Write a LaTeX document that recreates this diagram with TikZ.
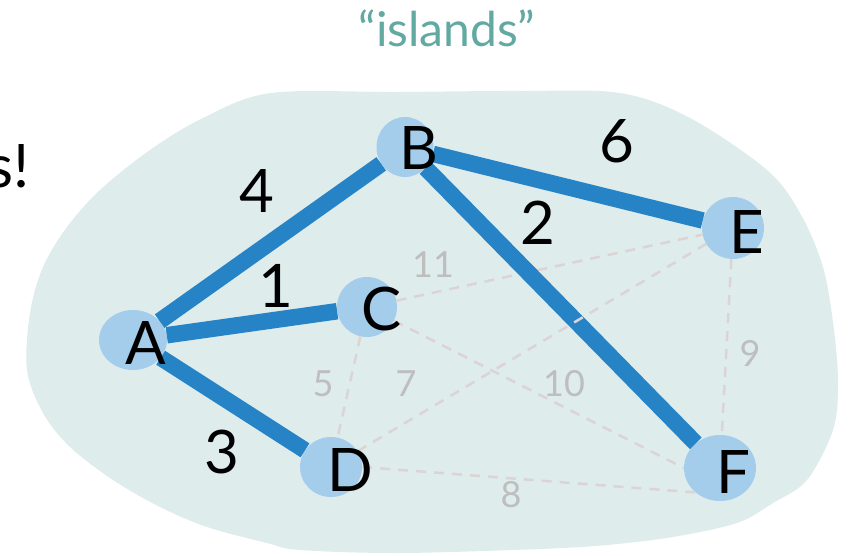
\documentclass[tikz,border=0pt]{standalone}
\usepackage{fontspec}
\setmainfont{Lato}
\usetikzlibrary{shapes.geometric}
\definecolor{island}{HTML}{DEECEC}
\definecolor{vertex}{HTML}{A4CDEC}
\definecolor{treeedge}{HTML}{2684C6}
\definecolor{spare}{HTML}{DCD4D4}
\definecolor{sparetext}{HTML}{BEBEBE}
\definecolor{titleteal}{HTML}{62A9A1}

\begin{document}
\begin{tikzpicture}[x=1pt,y=-1pt,
  vtx/.style={ellipse, fill=vertex, inner sep=0pt},
  vname/.style={font=\fontsize{60}{62}\selectfont, inner sep=0pt},
  tree/.style={draw=treeedge, line width=16.5pt},
  spareedge/.style={draw=spare, line width=2.5pt, dash pattern=on 10pt off 8pt},
  wt/.style={font=\fontsize{60}{62}\selectfont, inner sep=0pt},
  swt/.style={font=\fontsize{36}{40}\selectfont, text=sparetext, inner sep=0pt}]

\useasboundingbox (0,0) rectangle (849,556);

% the island region
\fill[island] plot[smooth cycle, tension=0.55] coordinates {
  (271,93) (400,92) (520,91) (620,93) (690,118) (767,170) (800,213)
  (823,267) (834,330) (838,385) (833,430) (807,480) (773,503)
  (737,523) (673,537) (607,545) (540,549) (400,553) (300,550)
  (267,543) (207,527) (160,507) (113,480) (70,447) (43,413) (27,370)
  (30,313) (43,267) (67,227) (100,190) (150,150) (203,118)};

% heading and cut-off text
\node[text=titleteal, font=\fontsize{48}{50}\selectfont, inner sep=0pt] (title) at (447,28) {“islands”};
\node[anchor=base east, font=\fontsize{60}{62}\selectfont, inner sep=0pt] (cut) at (30,188) {s!};

% vertices
\node[vtx, minimum width=68pt, minimum height=60pt] (A) at (133,340) {};
\node[vtx, minimum width=57pt, minimum height=60pt] (B) at (405,147) {};
\node[vtx, minimum width=60pt, minimum height=60pt] (C) at (367,307) {};
\node[vtx, minimum width=62pt, minimum height=60pt] (D) at (331,467) {};
\node[vtx, minimum width=62pt, minimum height=62pt] (E) at (733,228) {};
\node[vtx, minimum width=72pt, minimum height=66pt] (F) at (720,468) {};

% edges outside the tree
\draw[spareedge] (C) -- (D);
\draw[spareedge] (C) -- (E);
\draw[spareedge] (C) -- (F.west);
\draw[spareedge] (D.east) -- (F.225);
\draw[spareedge] (E) -- (F);

% tree edges
\draw[tree] (A) -- (B);
\draw[tree] (A) -- (C);
\draw[tree] (A) -- (D);
\draw[tree] (B) -- (E);
\draw[tree] (B) -- (F);

\draw[spareedge] (D) -- (E);

% vertex names
\node[vname] (lA) at (146,343) {A};
\node[vname] (lB) at (419,148) {B};
\node[vname] (lC) at (382,309) {C};
\node[vname] (lD) at (350,470) {D};
\node[vname] (lE) at (747,232) {E};
\node[vname] (lF) at (733,472) {F};

% weights
\node[wt] (w4) at (257,191) {4};
\node[wt] (w1) at (276,286) {1};
\node[wt] (w3) at (222,452) {3};
\node[wt] (w6) at (617,141) {6};
\node[wt] (w2) at (538,223) {2};

\node[swt] (w11) at (433,265) {11};
\node[swt] (w5) at (323,384) {5};
\node[swt] (w7) at (406,384) {7};
\node[swt] (w10) at (564,384) {10};
\node[swt] (w9) at (750,353) {9};
\node[swt] (w8) at (511,495) {8};
\end{tikzpicture}
\end{document}
